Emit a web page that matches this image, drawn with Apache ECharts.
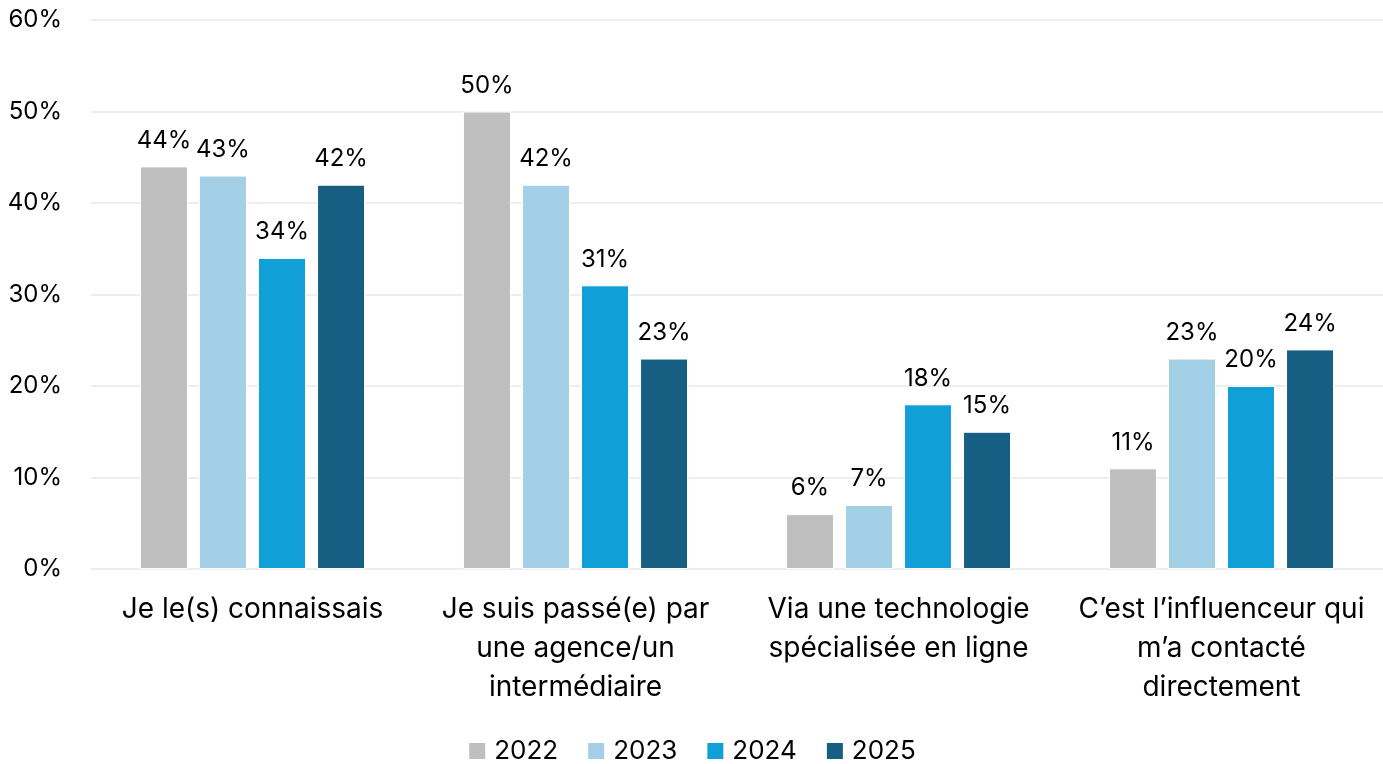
<!DOCTYPE html>
<html>
<head>
<meta charset="utf-8">
<script src="https://cdn.jsdelivr.net/npm/echarts@6/dist/echarts.min.js"></script>
<style>
html,body{margin:0;padding:0;background:#fff;}
#chart{width:1383px;height:764px;}
</style>
</head>
<body>
<div id="chart"></div>
<script>
const categories = [
  'Je le(s) connaissais',
  'Je suis passé(e) par\nune agence/un\nintermédiaire',
  'Via une technologie\nspécialisée en ligne',
  'C’est l’influenceur qui\nm’a contacté\ndirectement'
];
const seriesNames = ['2022', '2023', '2024', '2025'];
const values2022 = [44, 50, 6, 11];
const values2023 = [43, 42, 7, 23];
const values2024 = [34, 31, 18, 20];
const values2025 = [42, 23, 15, 24];
const colors = ['#BFBFBF', '#A3D0E7', '#109FD6', '#165F82'];
const yTicks = [0, 10, 20, 30, 40, 50, 60];

const allValues = [values2022, values2023, values2024, values2025];
const FONT = 'Inter, "Open Sans", sans-serif';

const chart = echarts.init(document.getElementById('chart'));
chart.setOption({
  animation: false,
  textStyle: { fontFamily: FONT },
  grid: { left: 91, right: -4, top: 20, bottom: 195, containLabel: false },
  legend: {
    data: seriesNames,
    top: 733,
    left: 'center',
    itemWidth: 18,
    itemHeight: 18,
    itemGap: 28,
    icon: 'rect',
    textStyle: { fontSize: 26, color: '#000', fontFamily: FONT, padding: [0, 0, 0, 3] }
  },
  xAxis: {
    type: 'category',
    data: categories,
    axisLine: { show: true, lineStyle: { color: '#EEEEEE', width: 1 } },
    axisTick: { show: false },
    axisLabel: { fontSize: 28, color: '#000', lineHeight: 39, margin: 21, interval: 0, fontFamily: FONT }
  },
  yAxis: {
    type: 'value',
    min: yTicks[0],
    max: yTicks[yTicks.length - 1],
    interval: 10,
    axisLine: { show: false },
    axisTick: { show: false },
    splitLine: { lineStyle: { color: '#EEEEEE', width: 2 } },
    axisLabel: { fontSize: 24, color: '#000', margin: 29, formatter: '{value}%', fontFamily: FONT }
  },
  series: seriesNames.map((name, i) => ({
    name: name,
    type: 'bar',
    data: allValues[i],
    barWidth: 48,
    barGap: '23%',
    barCategoryGap: '30%',
    itemStyle: { color: colors[i], borderColor: '#fff', borderWidth: 1 },
    label: {
      show: true,
      position: 'top',
      distance: 14,
      formatter: '{c}%',
      fontSize: 24,
      color: '#000',
      fontFamily: FONT
    }
  }))
});
</script>
</body>
</html>
